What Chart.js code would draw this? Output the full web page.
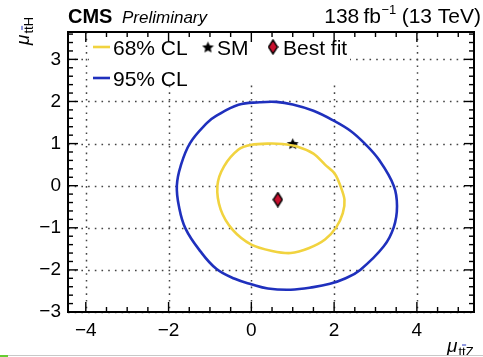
<!DOCTYPE html>
<html>
<head>
<meta charset="utf-8">
<script src="https://cdn.jsdelivr.net/npm/chart.js@4.4.1/dist/chart.umd.min.js"></script>
<style>
  html, body { margin: 0; padding: 0; background: #fff; }
</style>
</head>
<body>
<canvas id="contourChart" width="483" height="357"></canvas>
<script>
const xTicks = [-4, -2, 0, 2, 4];
const yTicks = [-3, -2, -1, 0, 1, 2, 3];

// 95% CL contour, (mu_ttZ, mu_ttH)
const cl95X = [-0.86, -0.31, 0.2, 0.6, 1.0, 1.5, 2.0, 2.4, 2.73, 3.08, 3.44, 3.52, 3.44, 3.20, 2.63, 2.25, 1.9, 1.5, 0.95, 0.4, 0.0, -0.4, -0.84, -1.23, -1.59, -1.75, -1.80, -1.71, -1.48, -1.07];
const cl95Y = [1.65, 1.92, 1.98, 1.99, 1.93, 1.78, 1.54, 1.30, 1.01, 0.62, 0.0, -0.49, -0.99, -1.44, -2.0, -2.21, -2.33, -2.41, -2.47, -2.44, -2.34, -2.21, -1.98, -1.56, -1.02, -0.49, 0.0, 0.46, 1.01, 1.49];

// 68% CL contour
const cl68X = [-0.82, -0.66, -0.31, 0.0, 0.4, 0.75, 1.1, 1.5, 1.78, 2.02, 2.15, 2.25, 2.21, 2.05, 1.78, 1.4, 0.95, 0.5, 0.0, -0.45, -0.74];
const cl68Y = [0.0, 0.46, 0.86, 0.97, 1.0, 0.99, 0.93, 0.76, 0.50, 0.28, 0.0, -0.33, -0.65, -0.99, -1.28, -1.48, -1.60, -1.55, -1.40, -1.05, -0.57];

const smPoint = [1.0, 1.0];
const bestFit = [0.64, -0.33];

const BLUE = '#1f30bd';
const YELLOW = '#f1d33f';
const FONT = '"Liberation Sans", Arial, sans-serif';

function makeStar(size) {
  const c = document.createElement('canvas');
  c.width = size; c.height = size;
  const g = c.getContext('2d');
  const R = size / 2 - 0.3, r = R * 0.45;
  g.beginPath();
  for (let i = 0; i < 10; i++) {
    const a = -Math.PI / 2 + i * Math.PI / 5;
    const rad = i % 2 ? r : R;
    g.lineTo(size / 2 + rad * Math.cos(a), size / 2 + 0.6 + rad * Math.sin(a));
  }
  g.closePath();
  g.fillStyle = '#000';
  g.fill();
  return c;
}

function makeDiamond(w, h) {
  const c = document.createElement('canvas');
  c.width = w; c.height = h;
  const g = c.getContext('2d');
  g.beginPath();
  g.moveTo(w / 2, 1); g.lineTo(w - 1, h / 2); g.lineTo(w / 2, h - 1); g.lineTo(1, h / 2);
  g.closePath();
  g.fillStyle = '#c8102e';
  g.fill();
  g.lineWidth = 1.4;
  g.strokeStyle = '#000';
  g.stroke();
  return c;
}

const starImg = makeStar(13);
const diamondImg = makeDiamond(11, 16);

const toPts = (xs, ys) => xs.map((x, i) => ({ x: x, y: ys[i] }));

const fmt = v => (v < 0 ? '\u2212' + Math.abs(v) : String(v));

function seg(ctx, x1, y1, x2, y2) {
  ctx.beginPath(); ctx.moveTo(x1, y1); ctx.lineTo(x2, y2); ctx.stroke();
}

// mu with subscript, the second t gets a bar
function muLabel(ctx, x0, y0, sub) {
  ctx.textAlign = 'left';
  ctx.textBaseline = 'alphabetic';
  ctx.font = 'italic 19px ' + FONT;
  ctx.fillText('\u03bc', x0, y0);
  let x = x0 + ctx.measureText('\u03bc').width + 1;
  ctx.font = '13px ' + FONT;
  const t = ctx.measureText('t').width;
  ctx.fillText('tt' + sub, x, y0 + 4);
  ctx.lineWidth = 1;
  seg(ctx, x + t, y0 - 7, x + 2 * t + 0.5, y0 - 7);
}

// contours are closed curves: let the line element treat them like a radar loop
const closeLoop = {
  id: 'closeLoop',
  afterDatasetsUpdate(chart) {
    [0, 1].forEach(i => {
      const line = chart.getDatasetMeta(i).dataset;
      line._loop = true;
      line._fullLoop = true;
      line._pointsUpdated = false;
      line._segments = undefined;
      line._path = undefined;
    });
  }
};

const decor = {
  id: 'decor',
  beforeDatasetsDraw(chart) {
    const { ctx, chartArea: a, scales: { x, y } } = chart;
    ctx.save();
    ctx.strokeStyle = '#444';
    ctx.lineWidth = 1.5;
    ctx.setLineDash([1.6, 5.1]);
    xTicks.forEach(v => {
      const px = Math.round(x.getPixelForValue(v)) + 0.5;
      seg(ctx, px, a.top, px, a.bottom);
    });
    yTicks.forEach(v => {
      const py = Math.round(y.getPixelForValue(v)) + 0.5;
      seg(ctx, a.left, py, a.right, py);
    });
    ctx.setLineDash([]);
    // legend box
    ctx.fillStyle = '#fff';
    ctx.fillRect(89, a.top + 1, 261, 51);
    ctx.restore();
  },
  afterDatasetsDraw(chart) {
    const { ctx, chartArea: a, scales: { x, y } } = chart;
    ctx.save();
    ctx.strokeStyle = '#000';
    ctx.fillStyle = '#000';

    // ticks, pointing inwards on all sides
    ctx.lineWidth = 1.4;
    for (let k = -9; k <= 11; k++) {
      const v = k / 2;
      const px = x.getPixelForValue(v);
      if (px < a.left + 2 || px > a.right - 2) continue;
      const L = k % 4 === 0 ? 10 : 5;
      seg(ctx, px, a.bottom, px, a.bottom - L);
      seg(ctx, px, a.top, px, a.top + L);
    }
    for (let k = -15; k <= 18; k++) {
      const py = y.getPixelForValue(k / 5);
      if (py < a.top + 2 || py > a.bottom - 2) continue;
      const L = k % 5 === 0 ? 10 : 5;
      seg(ctx, a.left, py, a.left + L, py);
      seg(ctx, a.right, py, a.right - L, py);
    }

    // frame
    ctx.lineWidth = 2;
    ctx.strokeRect(a.left, a.top, a.right - a.left, a.bottom - a.top);

    // legend
    ctx.lineWidth = 2.6;
    ctx.strokeStyle = YELLOW;
    seg(ctx, 93, 47, 110, 47);
    ctx.strokeStyle = BLUE;
    seg(ctx, 93, 78, 110, 78);
    ctx.font = '21px ' + FONT;
    ctx.textBaseline = 'alphabetic';
    ctx.textAlign = 'left';
    ctx.fillText('68% CL', 113, 55);
    ctx.fillText('95% CL', 113, 86);
    ctx.drawImage(starImg, 208 - 6.5, 47 - 6.5);
    ctx.fillText('SM', 217, 55);
    ctx.drawImage(diamondImg, 273 - 5.5, 47 - 8);
    ctx.fillText('Best fit', 283, 55);

    // header
    ctx.font = 'bold 20px ' + FONT;
    ctx.fillText('CMS', 68, 23);
    ctx.font = 'italic 17px ' + FONT;
    ctx.fillText('Preliminary', 122, 23);

    ctx.font = '21px ' + FONT;
    const p1 = '138\u2009fb', p3 = ' (13 TeV)';
    const w1 = ctx.measureText(p1).width, w3 = ctx.measureText(p3).width;
    ctx.font = '13px ' + FONT;
    const w2 = ctx.measureText('\u22121').width;
    let hx = 481 - (w1 + w2 + w3);
    ctx.font = '21px ' + FONT;
    ctx.fillText(p1, hx, 23);
    ctx.font = '13px ' + FONT;
    ctx.fillText('\u22121', hx + w1 + 0.5, 14);
    ctx.font = '21px ' + FONT;
    ctx.fillText(p3, hx + w1 + w2, 23);

    // axis titles
    muLabel(ctx, 447, 352, 'Z');
    ctx.save();
    ctx.translate(29, 45);
    ctx.rotate(-Math.PI / 2);
    muLabel(ctx, 0, 0, 'H');
    ctx.restore();

    // strip at the very bottom of the picture
    ctx.fillStyle = '#c8c8c8';
    ctx.fillRect(0, 355, 483, 1);
    ctx.fillStyle = '#66cc33';
    ctx.fillRect(0, 355, 8, 2);
    ctx.restore();
  }
};

const axisTicks = {
  color: '#000',
  autoSkip: false,
  maxRotation: 0,
  font: { family: FONT, size: 19 },
  callback: v => fmt(v)
};

new Chart(document.getElementById('contourChart'), {
  type: 'scatter',
  data: {
    datasets: [
      { data: toPts(cl95X, cl95Y), showLine: true, borderColor: BLUE, borderWidth: 2.6, pointRadius: 0, tension: 0.4, fill: false },
      { data: toPts(cl68X, cl68Y), showLine: true, borderColor: YELLOW, borderWidth: 2.6, pointRadius: 0, tension: 0.3, fill: false },
      { data: [{ x: smPoint[0], y: smPoint[1] }], pointStyle: starImg, pointRadius: 7 },
      { data: [{ x: bestFit[0], y: bestFit[1] }], pointStyle: diamondImg, pointRadius: 8 }
    ]
  },
  options: {
    responsive: false,
    animation: false,
    devicePixelRatio: 1,
    layout: { padding: { top: 32, right: 1, left: 0, bottom: 0 } },
    plugins: {
      legend: { display: false },
      tooltip: { enabled: false }
    },
    scales: {
      x: {
        type: 'linear',
        min: -4.43,
        max: 5.38,
        grid: { display: false, drawTicks: false },
        border: { display: false },
        afterBuildTicks: s => { s.ticks = xTicks.map(v => ({ value: v })); },
        afterFit: s => { s.height = 45; },
        ticks: Object.assign({ padding: 7 }, axisTicks)
      },
      y: {
        type: 'linear',
        min: -3,
        max: 3.65,
        grid: { display: false, drawTicks: false },
        border: { display: false },
        afterBuildTicks: s => { s.ticks = yTicks.map(v => ({ value: v })); },
        afterFit: s => { s.width = 68; },
        ticks: Object.assign({ padding: 7 }, axisTicks)
      }
    }
  },
  plugins: [closeLoop, decor]
});
</script>
</body>
</html>
